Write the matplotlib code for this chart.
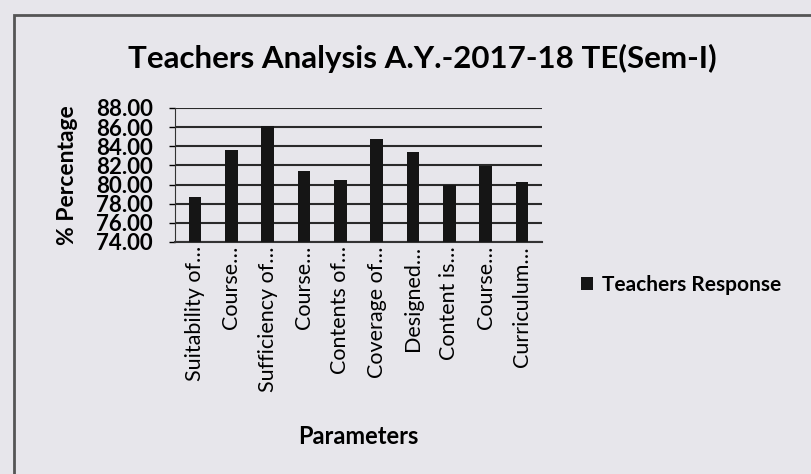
import numpy as np
import matplotlib
matplotlib.use("Agg")
import matplotlib.pyplot as plt
from matplotlib.patches import Rectangle

plt.rcParams['font.family'] = ['Lato', 'DejaVu Sans']

categories = ["Suitability of\u2026", "Course\u2026", "Sufficiency of\u2026", "Course\u2026",
              "Contents of\u2026", "Coverage of\u2026", "Designed\u2026", "Content is\u2026",
              "Course\u2026", "Curriculum\u2026"]
response = [78.7, 83.6, 86.1, 81.4, 80.5, 84.8, 83.4, 80.0, 81.9, 80.3]
yticks = [74, 76, 78, 80, 82, 84, 86, 88]

bg = "#e7e6eb"
fig = plt.figure(figsize=(8.12, 4.74), dpi=100, facecolor=bg)
ax = fig.add_axes([175 / 812, 1 - 242 / 474, 367 / 812, 134 / 474])
ax.set_facecolor(bg)

# outer chart border
fig.patches.append(Rectangle((14 / 812, -0.05), 1.1, 1 - 15 / 474 + 0.05,
                             transform=fig.transFigure, fill=False,
                             edgecolor="#555555", lw=2))

x = np.arange(len(categories))
ax.bar(x, response, 0.35, color="#151515", label="Teachers Response", zorder=3)

ax.set_ylim(74, 88)
ax.set_xlim(-0.55, len(categories) - 0.45)
ax.set_yticks(yticks)
ax.set_yticklabels([f"{v:.2f}" for v in yticks], fontsize=16, fontweight="bold")
ax.yaxis.grid(True, color="#2a2a2a", lw=1.5, zorder=1)
ax.set_xticks(x)
ax.set_xticklabels(categories, rotation=90, fontsize=15.5)
ax.tick_params(axis="x", length=0, pad=3)
ax.tick_params(axis="y", length=4, width=1, pad=12)
for s in ["top", "right"]:
    ax.spines[s].set_visible(False)
ax.spines["left"].set_color("#333333")
ax.spines["bottom"].set_color("#333333")
ax.spines["bottom"].set_linewidth(1.5)

ax.set_ylabel("% Percentage", fontsize=16.5, fontweight="bold", labelpad=13)
fig.text(358 / 812, 1 - 437 / 474, "Parameters", ha="center", va="center",
         fontsize=17, fontweight="bold")
fig.text(422 / 812, 1 - 58 / 474, "Teachers Analysis A.Y.-2017-18 TE(Sem-I)",
         ha="center", va="center", fontsize=22.5, fontweight="bold")

fig.legend(loc="center left", bbox_to_anchor=(562 / 812, 1 - 285 / 474),
           frameon=False, handlelength=0.6, handleheight=0.6,
           handletextpad=0.4, prop={"weight": "bold", "size": 15})

fig.savefig("out.png", dpi=100, facecolor=bg)
